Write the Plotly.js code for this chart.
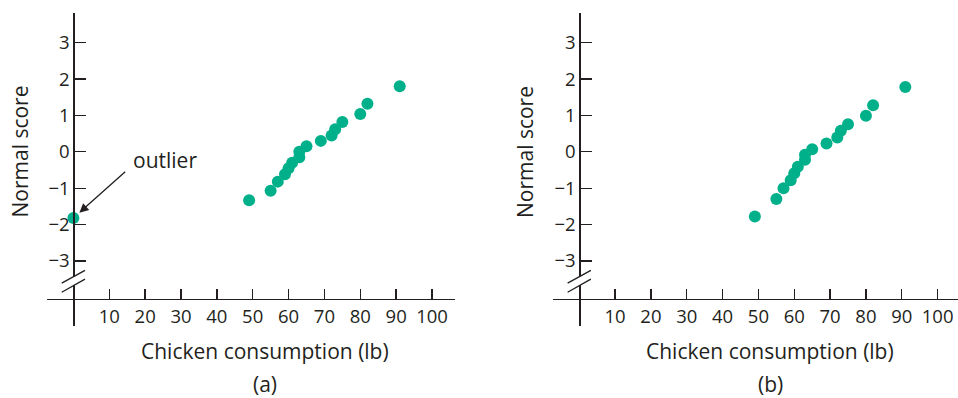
<!DOCTYPE html>
<html>
<head>
<meta charset="utf-8">
<script src="https://cdn.plot.ly/plotly-3.0.1.min.js"></script>
<style>html,body{margin:0;padding:0;background:#fff;}#chart{width:958px;height:398px;}</style>
</head>
<body>
<div id="chart"></div>
<script>
// Panel (a): with outlier
const consumptionA = [0, 49, 55, 57, 59, 60, 61, 63, 63, 65, 69, 72, 73, 75, 80, 82, 91];
const scoresA = [-1.82, -1.33, -1.07, -0.82, -0.62, -0.45, -0.30, -0.15, 0.00, 0.15, 0.30, 0.45, 0.62, 0.82, 1.04, 1.32, 1.80];
// Panel (b): outlier removed
const consumptionB = [49, 55, 57, 59, 60, 61, 63, 63, 65, 69, 72, 73, 75, 80, 82, 91];
const scoresB = [-1.78, -1.30, -1.00, -0.78, -0.59, -0.41, -0.22, -0.08, 0.07, 0.23, 0.39, 0.58, 0.76, 0.99, 1.28, 1.78];

const xTicks = [10, 20, 30, 40, 50, 60, 70, 80, 90, 100];
const yTicks = [-3, -2, -1, 0, 1, 2, 3];
const xTitle = "Chicken consumption (lb)";
const yTitle = "Normal score";
const panelLabels = ["(a)", "(b)"];
const outlierLabel = "outlier";

const W = 958, H = 398;
const px = v => v / W;
const py = v => 1 - v / H;
const ink = "#231f20";
const dot = "#00b08a";
const FONT = "Open Sans";

const traces = [
  {x: consumptionA, y: scoresA, xaxis: "x", yaxis: "y", mode: "markers", type: "scatter",
   marker: {color: dot, size: 12}, hoverinfo: "x+y"},
  {x: consumptionB, y: scoresB, xaxis: "x2", yaxis: "y2", mode: "markers", type: "scatter",
   marker: {color: dot, size: 12}, hoverinfo: "x+y"}
];

const yRange = [-4.78, 3.815];
const yDom = [py(325.7), py(13)];
const xAxisPos = py(299);

function xax(domain, range) {
  return {domain: domain, range: range, anchor: "free", position: xAxisPos, side: "bottom",
    showline: true, linecolor: ink, linewidth: 1.3, showgrid: false, zeroline: false,
    tickmode: "array", tickvals: xTicks, ticks: "inside", ticklen: 10, tickwidth: 1.3, tickcolor: ink,
    tickfont: {family: FONT, size: 18.5, color: ink}, fixedrange: true};
}
function yax(pos) {
  return {domain: yDom, range: yRange, anchor: "free", position: pos, side: "left",
    showline: true, linecolor: ink, linewidth: 1.3, showgrid: false, zeroline: false,
    tickmode: "array", tickvals: yTicks, ticks: "inside", ticklen: 11, tickwidth: 1.3, tickcolor: ink,
    tickfont: {family: FONT, size: 18.5, color: ink}, fixedrange: true};
}

function breakShapes(xr, yr) {
  // two parallel slashes across the vertical axis, with a white gap between them
  const s = [];
  s.push({type: "path", xref: xr, yref: yr,
    path: "M -3.26 -3.61 L 3.23 -3.26 L 3.23 -3.50 L -3.26 -3.86 Z",
    fillcolor: "white", line: {width: 0}, layer: "above"});
  s.push({type: "line", xref: xr, yref: yr, x0: -3.26, y0: -3.61, x1: 3.23, y1: -3.26, line: {color: ink, width: 1.3}});
  s.push({type: "line", xref: xr, yref: yr, x0: -3.26, y0: -3.86, x1: 3.23, y1: -3.50, line: {color: ink, width: 1.3}});
  return s;
}

const tf = {family: FONT, size: 21, color: ink};
function lab(x, y, text, extra) {
  return Object.assign({xref: "paper", yref: "paper", x: px(x), y: py(y), text: text, showarrow: false,
    font: tf, xanchor: "center", yanchor: "middle", borderpad: 0}, extra || {});
}
const layout = {
  width: W, height: H, margin: {l: 0, r: 0, t: 0, b: 0},
  paper_bgcolor: "#fff", plot_bgcolor: "rgba(0,0,0,0)", showlegend: false,
  xaxis: xax([px(46.7), px(455.3)], [-7.45, 106.5]),
  yaxis: yax(px(73.4)),
  xaxis2: xax([px(552.7), px(958)], [-7.42, 105.7]),
  yaxis2: yax(px(579.3)),
  shapes: breakShapes("x", "y").concat(breakShapes("x2", "y2")),
  annotations: [
    lab(264.5, 351, xTitle),
    lab(770, 351, xTitle),
    lab(19.5, 152, yTitle, {textangle: -90}),
    lab(525, 152, yTitle, {textangle: -90}),
    lab(264.5, 383.5, panelLabels[0]),
    lab(770, 383.5, panelLabels[1]),
    lab(164.5, 159.5, outlierLabel),
    {xref: "x", yref: "y", x: consumptionA[0], y: scoresA[0], text: " ", font: {size: 1},
     showarrow: true, ax: 53.3, ay: -47.6, standoff: 8, arrowhead: 2, arrowsize: 1.4, arrowwidth: 1.3, arrowcolor: ink}
  ]
};

Plotly.newPlot("chart", traces, layout, {displayModeBar: false, staticPlot: true});
</script>
</body>
</html>
